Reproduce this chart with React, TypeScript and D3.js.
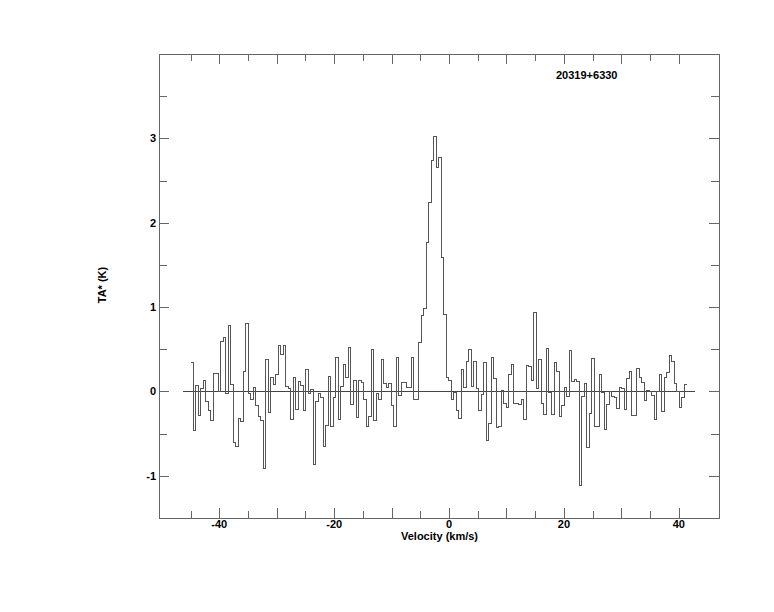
import React from "react";
import * as d3 from "d3";

// Spectrum channel values (TA*, K), left to right
const TA_VALUES: number[] = [
  0.34, -0.46, 0.07, -0.28, 0.04, 0.13, -0.12, -0.22, -0.34, 0.21, 0.21, 0.0, 0.59, 0.64, -0.02, 0.78, 0.08, -0.60, -0.65, -0.32, -0.36, 0.24, 0.81, -0.02, -0.10, 0.05, -0.17, -0.30, -0.34, -0.91,
  0.38, -0.25, 0.17, 0.08, 0.2, 0.55, 0.44, 0.55, 0.06, 0.04, -0.33, 0.16, -0.21, 0.12, 0.07, -0.22, 0.26, -0.03, 0.02, -0.86, -0.12, -0.03, -0.07, -0.65, -0.40, 0.18, -0.42, -0.07, 0.40, -0.33, 0.06, 0.32, 0.16, 0.52, -0.16,
  0.13, -0.31, 0.13, 0.11, -0.09, -0.41, -0.30, 0.50, -0.35, -0.03, -0.09, 0.38, 0.09, 0.05, 0.09, -0.17, -0.42, 0.40, -0.05, 0.11, 0.11, 0.05, 0.05, 0.40, -0.1, -0.1, 0.58,
  0.9, 0.98, 1.77, 2.24, 2.74, 3.02, 2.65, 2.77, 1.59,
  0.91, 0.17, 0.13, -0.1, -0.01, -0.22, -0.32, 0.26, 0.05, 0.36, 0.50, 0.06, 0.35, 0.03, -0.22, -0.04, 0.34, -0.58, -0.38, 0.40, 0.15, -0.43, -0.42, 0.01, -0.14, -0.19, 0.2, 0.32, -0.14, -0.14, -0.15, -0.1, -0.33, 0.31, 0.30,
  0.13, 0.94, 0.03, 0.38, -0.14, -0.27, 0.51, -0.01, -0.27, 0.34, 0.24, -0.30, -0.17, 0.05, -0.06, 0.48, 0.12, 0.14, 0.12, -1.11, -0.06, 0.1, -0.66, -0.26, 0.39, -0.41, -0.41, 0.20, -0.01, -0.45, -0.15, 0.0, -0.06,
  -0.07, -0.2, 0.05, 0.04, -0.21, 0.15, 0.24, -0.28, -0.28, 0.27, 0.17, 0.11, -0.11, 0.01, 0.0, -0.05, -0.33, 0.0, 0.2, -0.24, 0.17, 0.23, 0.43, 0.35, 0.09, 0.0, -0.19, -0.07, 0.08,
];

// Velocity grid: first channel left edge and last channel right edge (km/s)
const V_FIRST_EDGE = -45.0;
const V_LAST_EDGE = 41.4;
const BASELINE_RANGE: [number, number] = [-46.4, 42.8];

const X_DOMAIN: [number, number] = [-50.5, 47];
const Y_DOMAIN: [number, number] = [-1.5, 4];
const X_TICKS: number[] = [-45, -40, -35, -30, -25, -20, -15, -10, -5, 0, 5, 10, 15, 20, 25, 30, 35, 40];
const X_LABELS: number[] = [-40, -20, 0, 20, 40];
const Y_TICKS: number[] = [-1, -0.5, 0, 0.5, 1, 1.5, 2, 2.5, 3, 3.5];
const Y_LABELS: number[] = [-1, 0, 1, 2, 3];

const TITLE = "20319+6330";
const X_TITLE = "Velocity (km/s)";
const Y_TITLE = "TA* (K)";

export default function App() {
  const W = 774, H = 612;
  const left = 159, right = 719, top = 54, bottom = 518;
  const x = d3.scaleLinear().domain(X_DOMAIN).range([left, right]);
  const y = d3.scaleLinear().domain(Y_DOMAIN).range([bottom, top]);

  const n = TA_VALUES.length;
  const dv = (V_LAST_EDGE - V_FIRST_EDGE) / n;
  const pts: [number, number][] = TA_VALUES.map((v, i) => [V_FIRST_EDGE + i * dv, v]);
  pts.push([V_LAST_EDGE, TA_VALUES[n - 1]]);
  const line = d3
    .line<[number, number]>()
    .x((d) => x(d[0]))
    .y((d) => y(d[1]))
    .curve(d3.curveStepAfter);

  const font = "'Liberation Sans', Arial, Helvetica, sans-serif";
  const axisColor = "#666";
  const isMajorX = (t: number) => t % 10 === 0;
  const isMajorY = (t: number) => Number.isInteger(t);

  return (
    <svg width={W} height={H} style={{ position: "absolute", left: 0, top: 0, background: "#fff" }}>
      <rect x={0} y={0} width={W} height={H} fill="#fff" />
      <g fill="none" stroke={axisColor} strokeWidth={1} shapeRendering="crispEdges">
        <rect x={left} y={top} width={right - left} height={bottom - top} />
        {X_TICKS.map((t) => {
          const len = isMajorX(t) ? 10 : 7;
          const px = Math.round(x(t)) + 0.5;
          return (
            <g key={"xt" + t}>
              <line x1={px} x2={px} y1={bottom} y2={bottom - len} />
              <line x1={px} x2={px} y1={top} y2={top + len} />
            </g>
          );
        })}
        {Y_TICKS.map((t) => {
          const len = isMajorY(t) ? 10 : 8;
          const py = Math.round(y(t)) + 0.5;
          return (
            <g key={"yt" + t}>
              <line x1={left} x2={left + len} y1={py} y2={py} />
              <line x1={right} x2={right - len} y1={py} y2={py} />
            </g>
          );
        })}
      </g>
      <line
        x1={x(BASELINE_RANGE[0])}
        x2={x(BASELINE_RANGE[1])}
        y1={Math.round(y(0)) + 0.5}
        y2={Math.round(y(0)) + 0.5}
        stroke="#444"
        strokeWidth={1}
        shapeRendering="crispEdges"
      />
      <path d={line(pts) || ""} fill="none" stroke="#555" strokeWidth={1} shapeRendering="crispEdges" />
      <g fontFamily={font} fontWeight="bold" fontSize={11} fill="#000">
        {X_LABELS.map((t) => (
          <text key={"xl" + t} x={x(t)} y={528} textAnchor="middle">
            {t}
          </text>
        ))}
        {Y_LABELS.map((t) => (
          <text key={"yl" + t} x={156} y={y(t) + 4} textAnchor="end">
            {t}
          </text>
        ))}
        <text x={401} y={540}>{X_TITLE}</text>
        <text x={556} y={79}>{TITLE}</text>
        <text transform={`translate(106,285) rotate(-90)`} textAnchor="middle">
          {Y_TITLE}
        </text>
      </g>
    </svg>
  );
}
